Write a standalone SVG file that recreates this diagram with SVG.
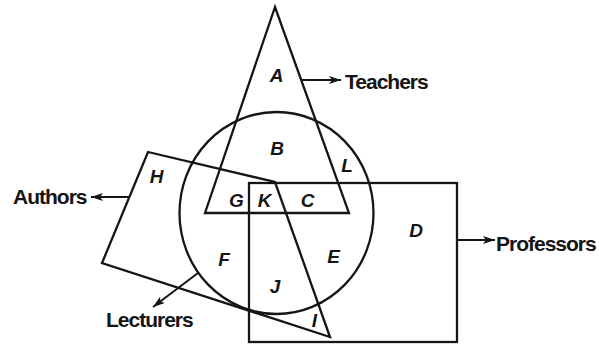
<svg xmlns="http://www.w3.org/2000/svg" width="599" height="345" viewBox="0 0 599 345">
<style>
.shape{fill:none;stroke:#151515;stroke-width:2.3;stroke-linejoin:miter}
.conn{fill:none;stroke:#151515;stroke-width:2}
.name{font-family:"Liberation Sans",Arial,sans-serif;font-size:21px;font-weight:bold;letter-spacing:-1px;fill:#151515}
.reg{font-family:"Liberation Sans",Arial,sans-serif;font-size:19px;font-style:italic;font-weight:bold;fill:#151515;text-anchor:middle}
</style>
<defs>
<marker id="ah" viewBox="0 0 12 8" refX="12" refY="4" markerWidth="12" markerHeight="8" markerUnits="userSpaceOnUse" orient="auto">
<path d="M0,0 L12,4 L0,8 L3,4 Z" fill="#151515"/>
</marker>
</defs>
<rect width="599" height="345" fill="#ffffff"/>
<g id="teachers">
<polygon class="shape" points="275,7 205,213 349,213"/>
</g>
<g id="lecturers">
<ellipse class="shape" cx="276.5" cy="213" rx="97" ry="101"/>
</g>
<g id="authors">
<polygon class="shape" points="148,152 275,182 330,337 102,263"/>
</g>
<g id="professors">
<rect class="shape" x="249" y="183" width="208" height="159"/>
</g>
<g id="connectors">
<line class="conn" x1="301" y1="80" x2="341" y2="80" marker-end="url(#ah)"/>
<line class="conn" x1="129" y1="197" x2="91" y2="197" marker-end="url(#ah)"/>
<line class="conn" x1="457" y1="240" x2="495" y2="240" marker-end="url(#ah)"/>
<line class="conn" x1="198" y1="273" x2="153" y2="307" marker-end="url(#ah)"/>
</g>
<g id="names">
<text class="name" x="345" y="89">Teachers</text>
<text class="name" x="13" y="204">Authors</text>
<text class="name" x="496" y="251">Professors</text>
<text class="name" x="106" y="327">Lecturers</text>
</g>
<g id="regions">
<text class="reg" x="276.5" y="82">A</text>
<text class="reg" x="277" y="155">B</text>
<text class="reg" x="347" y="172">L</text>
<text class="reg" x="156.5" y="183">H</text>
<text class="reg" x="236.5" y="207">G</text>
<text class="reg" x="264.5" y="207">K</text>
<text class="reg" x="307.5" y="207">C</text>
<text class="reg" x="416" y="237">D</text>
<text class="reg" x="333.5" y="263">E</text>
<text class="reg" x="224" y="266">F</text>
<text class="reg" x="275" y="293">J</text>
<text class="reg" x="314.5" y="327">I</text>
</g>
</svg>
